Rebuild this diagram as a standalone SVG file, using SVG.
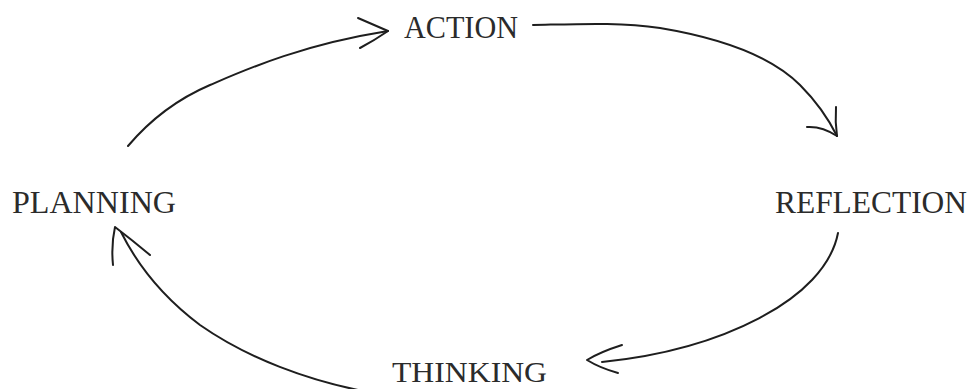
<svg xmlns="http://www.w3.org/2000/svg" width="975" height="389" viewBox="0 0 975 389">
<style>
.lbl{font-family:"Liberation Serif","Times New Roman",serif;font-size:31px;fill:#2b2b2b;}
.c{fill:none;stroke:#1e1e1e;stroke-width:2;stroke-linecap:round;stroke-linejoin:round;}
</style>
<rect width="975" height="389" fill="#ffffff"/>
<g id="action"><text class="lbl" x="404" y="38" textLength="114" lengthAdjust="spacingAndGlyphs">ACTION</text></g>
<g id="reflection"><text class="lbl" x="775" y="213" textLength="192" lengthAdjust="spacingAndGlyphs">REFLECTION</text></g>
<g id="thinking"><text class="lbl" x="392" y="382" style="font-size:29px" textLength="155" lengthAdjust="spacingAndGlyphs">THINKING</text></g>
<g id="planning"><text class="lbl" x="12" y="213" textLength="164" lengthAdjust="spacingAndGlyphs">PLANNING</text></g>
<g id="connectors">
<path class="c" d="M128,146 C150,120 175,100 210,85 S300,45 388,31"/>
<path class="c" d="M358,18 Q374,25 388,31 Q375,40 360,48"/>
<path class="c" d="M533,25 C580,24 620,22 660,28 C720,38 770,55 800,85 C815,100 828,118 837,136"/>
<path class="c" d="M836,107 Q835,122 837,136 M807,127 Q822,126 837,136"/>
<path class="c" d="M838,233 C825,300 720,350 602,362"/>
<path class="c" d="M622,345 Q600,352 587,360 Q600,368 618,373"/>
<path class="c" d="M358,390 C310,380 250,360 200,325 C160,295 135,260 121,232"/>
<path class="c" d="M113,265 Q111,245 115,227 Q132,240 150,255"/>
</g>
</svg>
